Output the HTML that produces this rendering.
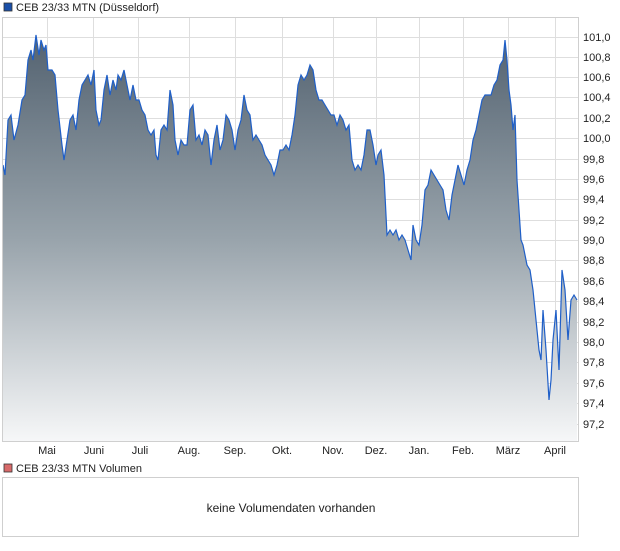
<!DOCTYPE html>
<html><head><meta charset="utf-8"><style>
body{margin:0;background:#fff;font-family:"Liberation Sans",sans-serif;}
svg text{font-family:"Liberation Sans",sans-serif;font-size:11px;fill:#222;}
</style></head><body>
<svg width="620" height="546" xmlns="http://www.w3.org/2000/svg">
<defs><linearGradient id="g" x1="0" y1="0" x2="0" y2="1" gradientUnits="userSpaceOnUse" y1a="0">
</linearGradient>
<linearGradient id="f" gradientUnits="userSpaceOnUse" x1="0" y1="35" x2="0" y2="441">
<stop offset="0" stop-color="#536270"/><stop offset="0.5" stop-color="#98a3ab"/><stop offset="1" stop-color="#f6f7f8"/></linearGradient></defs>
<rect x="4" y="3" width="8" height="8" fill="#1a4fa8" stroke="#333" stroke-width="0.8"/>
<text x="16" y="11">CEB 23/33 MTN (Düsseldorf)</text>
<g stroke="#dedede" stroke-width="1">
<line x1="47.5" y1="17" x2="47.5" y2="441"/><line x1="93.5" y1="17" x2="93.5" y2="441"/><line x1="138.5" y1="17" x2="138.5" y2="441"/><line x1="189.5" y1="17" x2="189.5" y2="441"/><line x1="235.5" y1="17" x2="235.5" y2="441"/><line x1="282.5" y1="17" x2="282.5" y2="441"/><line x1="333.5" y1="17" x2="333.5" y2="441"/><line x1="376.5" y1="17" x2="376.5" y2="441"/><line x1="419.5" y1="17" x2="419.5" y2="441"/><line x1="463.5" y1="17" x2="463.5" y2="441"/><line x1="508.5" y1="17" x2="508.5" y2="441"/><line x1="555.5" y1="17" x2="555.5" y2="441"/>
<line x1="2" y1="37.5" x2="578" y2="37.5"/><line x1="2" y1="57.5" x2="578" y2="57.5"/><line x1="2" y1="77.5" x2="578" y2="77.5"/><line x1="2" y1="97.5" x2="578" y2="97.5"/><line x1="2" y1="118.5" x2="578" y2="118.5"/><line x1="2" y1="138.5" x2="578" y2="138.5"/><line x1="2" y1="159.5" x2="578" y2="159.5"/><line x1="2" y1="179.5" x2="578" y2="179.5"/><line x1="2" y1="199.5" x2="578" y2="199.5"/><line x1="2" y1="220.5" x2="578" y2="220.5"/><line x1="2" y1="240.5" x2="578" y2="240.5"/><line x1="2" y1="260.5" x2="578" y2="260.5"/><line x1="2" y1="281.5" x2="578" y2="281.5"/><line x1="2" y1="301.5" x2="578" y2="301.5"/><line x1="2" y1="322.5" x2="578" y2="322.5"/><line x1="2" y1="342.5" x2="578" y2="342.5"/><line x1="2" y1="362.5" x2="578" y2="362.5"/><line x1="2" y1="383.5" x2="578" y2="383.5"/><line x1="2" y1="403.5" x2="578" y2="403.5"/><line x1="2" y1="424.5" x2="578" y2="424.5"/>
</g>
<polygon fill="url(#f)" points="3,441 3,165 5,175 8,120 11,115 14,140 18,125 22,100 25,95 28,60 31,50 33,60 36,35 39,55 41,40 44,50 46,45 48,70 52,70 55,75 58,110 62,145 64,160 67,140 70,120 73,115 76,130 79,100 82,85 85,80 88,75 91,85 94,70 96,110 99,125 101,120 104,90 107,75 110,95 113,80 116,90 118,75 121,80 124,70 127,85 130,100 133,85 136,100 139,100 142,110 145,115 148,130 151,135 154,130 156,155 158,160 161,130 164,125 167,130 170,90 173,105 175,140 178,155 181,140 184,145 187,145 190,110 193,105 196,140 199,135 202,145 205,130 208,135 211,165 214,140 217,125 220,150 223,140 226,115 229,120 232,130 235,150 238,130 241,120 244,95 247,110 250,115 253,140 256,135 259,140 262,145 265,155 268,160 271,165 274,175 277,165 280,150 283,150 286,145 289,150 292,135 295,115 298,85 301,75 304,80 307,75 310,65 313,70 316,90 319,100 322,100 325,105 328,110 331,115 334,115 337,125 340,115 343,120 346,130 349,125 352,160 355,170 358,165 361,170 364,155 367,130 370,130 373,145 376,165 378,155 381,150 384,175 387,235 390,230 393,235 396,230 399,240 402,235 405,240 408,250 411,260 413,225 416,240 419,245 422,225 425,190 428,185 431,170 434,175 437,180 440,185 443,190 446,210 449,220 452,195 455,180 458,165 461,175 464,185 467,170 470,160 473,140 476,130 479,115 482,100 485,95 488,95 491,95 494,85 497,80 500,65 503,60 505,40 507,60 509,90 511,105 513,130 515,115 517,180 519,210 521,240 523,245 525,255 527,265 530,270 533,290 536,320 539,350 541,360 543,310 546,350 549,400 551,380 553,340 556,310 559,370 562,270 565,290 568,340 571,300 574,295 577,300 577,441"/>
<polyline fill="none" stroke="#1f5fc8" stroke-width="1.2" points="3,165 5,175 8,120 11,115 14,140 18,125 22,100 25,95 28,60 31,50 33,60 36,35 39,55 41,40 44,50 46,45 48,70 52,70 55,75 58,110 62,145 64,160 67,140 70,120 73,115 76,130 79,100 82,85 85,80 88,75 91,85 94,70 96,110 99,125 101,120 104,90 107,75 110,95 113,80 116,90 118,75 121,80 124,70 127,85 130,100 133,85 136,100 139,100 142,110 145,115 148,130 151,135 154,130 156,155 158,160 161,130 164,125 167,130 170,90 173,105 175,140 178,155 181,140 184,145 187,145 190,110 193,105 196,140 199,135 202,145 205,130 208,135 211,165 214,140 217,125 220,150 223,140 226,115 229,120 232,130 235,150 238,130 241,120 244,95 247,110 250,115 253,140 256,135 259,140 262,145 265,155 268,160 271,165 274,175 277,165 280,150 283,150 286,145 289,150 292,135 295,115 298,85 301,75 304,80 307,75 310,65 313,70 316,90 319,100 322,100 325,105 328,110 331,115 334,115 337,125 340,115 343,120 346,130 349,125 352,160 355,170 358,165 361,170 364,155 367,130 370,130 373,145 376,165 378,155 381,150 384,175 387,235 390,230 393,235 396,230 399,240 402,235 405,240 408,250 411,260 413,225 416,240 419,245 422,225 425,190 428,185 431,170 434,175 437,180 440,185 443,190 446,210 449,220 452,195 455,180 458,165 461,175 464,185 467,170 470,160 473,140 476,130 479,115 482,100 485,95 488,95 491,95 494,85 497,80 500,65 503,60 505,40 507,60 509,90 511,105 513,130 515,115 517,180 519,210 521,240 523,245 525,255 527,265 530,270 533,290 536,320 539,350 541,360 543,310 546,350 549,400 551,380 553,340 556,310 559,370 562,270 565,290 568,340 571,300 574,295 577,300"/>
<rect x="2.5" y="17.5" width="576" height="424" fill="none" stroke="#cfcfcf"/>
<g>
<text x="583" y="41">101,0</text><text x="583" y="61">100,8</text><text x="583" y="81">100,6</text><text x="583" y="101">100,4</text><text x="583" y="122">100,2</text><text x="583" y="142">100,0</text><text x="583" y="163">99,8</text><text x="583" y="183">99,6</text><text x="583" y="203">99,4</text><text x="583" y="224">99,2</text><text x="583" y="244">99,0</text><text x="583" y="264">98,8</text><text x="583" y="285">98,6</text><text x="583" y="305">98,4</text><text x="583" y="326">98,2</text><text x="583" y="346">98,0</text><text x="583" y="366">97,8</text><text x="583" y="387">97,6</text><text x="583" y="407">97,4</text><text x="583" y="428">97,2</text>
</g>
<g text-anchor="middle">
<text x="47" y="454">Mai</text><text x="94" y="454">Juni</text><text x="140" y="454">Juli</text><text x="189" y="454">Aug.</text><text x="235" y="454">Sep.</text><text x="282" y="454">Okt.</text><text x="333" y="454">Nov.</text><text x="376" y="454">Dez.</text><text x="419" y="454">Jan.</text><text x="463" y="454">Feb.</text><text x="508" y="454">März</text><text x="555" y="454">April</text>
</g>
<rect x="4" y="464" width="8" height="8" fill="#d86a6a" stroke="#333" stroke-width="0.8"/>
<text x="16" y="472">CEB 23/33 MTN Volumen</text>
<rect x="2.5" y="477.5" width="576" height="59" fill="none" stroke="#cfcfcf"/>
<text x="291" y="512" text-anchor="middle" style="font-size:12px">keine Volumendaten vorhanden</text>
</svg>
</body></html>
